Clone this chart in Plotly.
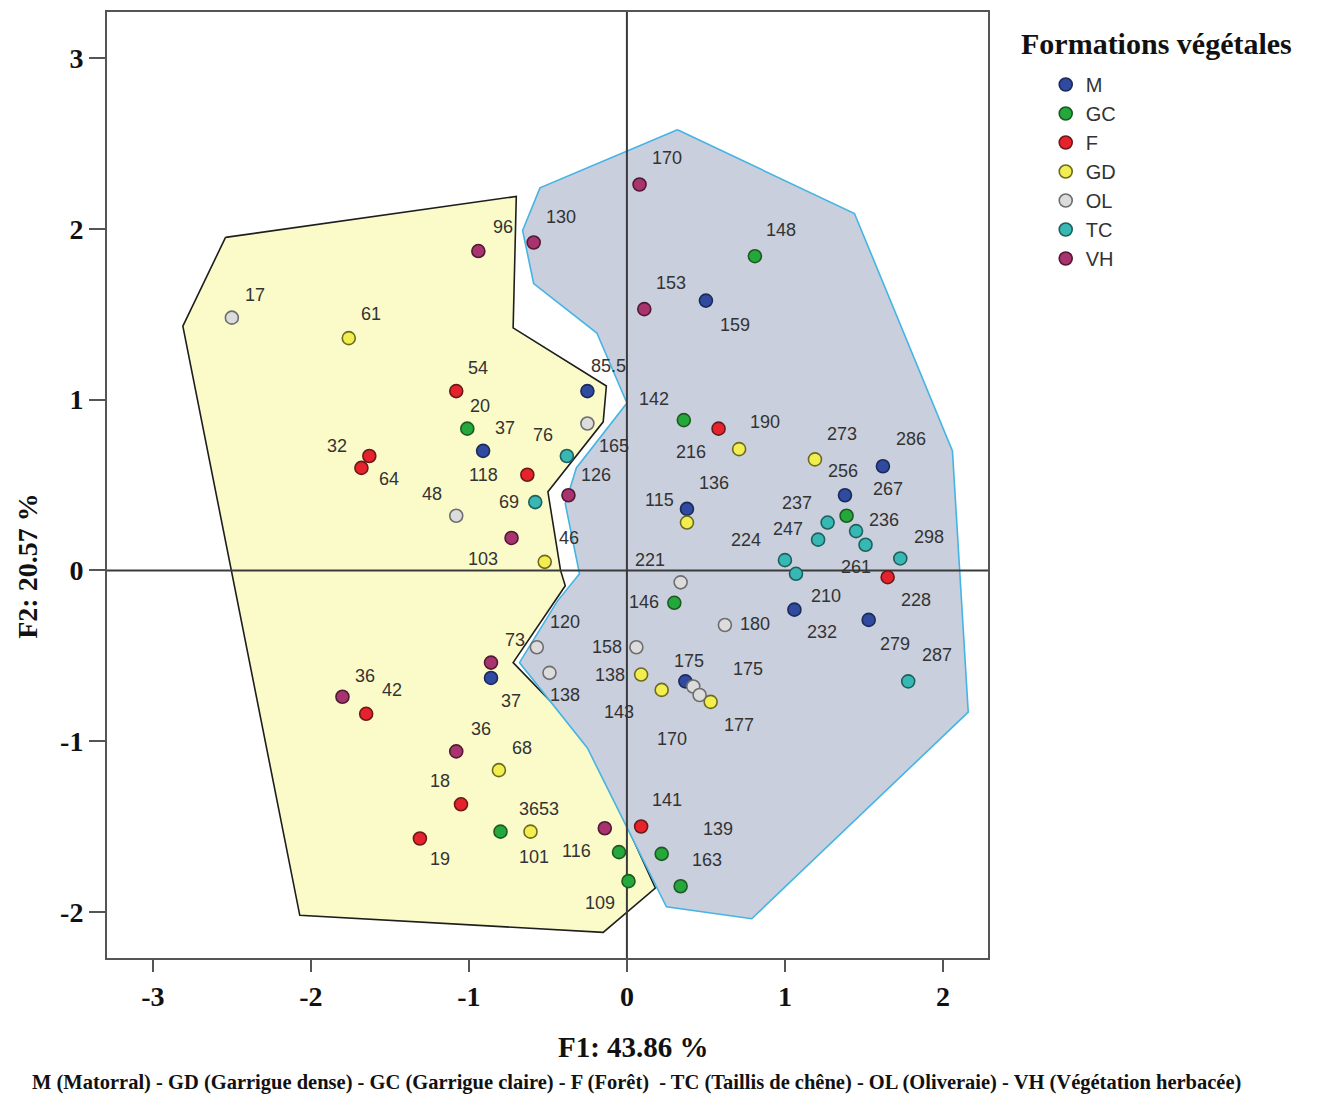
import plotly.graph_objects as go

# ---- ACP scores (F1, F2) per vegetation formation, with relevé labels ----
GROUPS = ["M", "GC", "F", "GD", "OL", "TC", "VH"]

M_X = [0.50, -0.25, -0.91, 0.38, 1.62, 1.38, 1.06, 1.53, -0.86, 0.37]
M_Y = [1.58, 1.05, 0.70, 0.36, 0.61, 0.44, -0.23, -0.29, -0.63, -0.65]
M_LAB = ["159", "85.5", "37", "136", "286", "256", "232", "279", "37", "175"]

GC_X = [0.81, -1.01, 0.36, 1.39, 0.30, -0.80, -0.05, 0.01, 0.22, 0.34]
GC_Y = [1.84, 0.83, 0.88, 0.32, -0.19, -1.53, -1.65, -1.82, -1.66, -1.85]
GC_LAB = ["148", "20", "142", "267", "146", "3653", "", "109", "139", "163"]

F_X = [-1.08, -1.63, -1.68, -0.63, 0.58, 1.65, -1.65, -1.05, -1.31, 0.09]
F_Y = [1.05, 0.67, 0.60, 0.56, 0.83, -0.04, -0.84, -1.37, -1.57, -1.50]
F_LAB = ["54", "32", "64", "118", "216", "228", "42", "18", "19", "141"]

GD_X = [-1.76, 0.71, 1.19, 0.38, -0.52, 0.09, 0.22, 0.53, -0.81, -0.61]
GD_Y = [1.36, 0.71, 0.65, 0.28, 0.05, -0.61, -0.70, -0.77, -1.17, -1.53]
GD_LAB = ["61", "190", "273", "115", "46", "138", "143", "177", "68", "101"]

OL_X = [-2.50, -0.25, -1.08, 0.34, 0.62, 0.06, -0.57, -0.49, 0.42, 0.46]
OL_Y = [1.48, 0.86, 0.32, -0.07, -0.32, -0.45, -0.45, -0.60, -0.68, -0.73]
OL_LAB = ["17", "165", "48", "221", "180", "158", "120", "138", "170", "175"]

TC_X = [-0.38, -0.58, 1.27, 1.21, 1.45, 1.51, 1.00, 1.07, 1.73, 1.78]
TC_Y = [0.67, 0.40, 0.28, 0.18, 0.23, 0.15, 0.06, -0.02, 0.07, -0.65]
TC_LAB = ["76", "69", "237", "247", "236", "261", "224", "210", "298", "287"]

VH_X = [-0.94, -0.59, 0.08, 0.11, -0.37, -0.73, -0.86, -1.80, -1.08, -0.14]
VH_Y = [1.87, 1.92, 2.26, 1.53, 0.44, 0.19, -0.54, -0.74, -1.06, -1.51]
VH_LAB = ["96", "130", "170", "153", "126", "103", "73", "36", "36", "116"]

# label offsets from each point, in screen pixels (dx right, dy down)
M_OFF = [(29, 24), (21, -25), (22, -23), (27, -26), (28, -27), (-2, -24),
         (28, 22), (26, 24), (20, 23), (4, -20)]
GC_OFF = [(26, -26), (13, -23), (-30, -21), (41, -27), (-30, -1), (39, -23),
          (0, 0), (-28, 22), (56, -25), (26, -26)]
F_OFF = [(22, -23), (-32, -10), (28, 11), (-44, 0), (-28, 23), (28, 23),
         (26, -24), (-21, -23), (20, 21), (26, -27)]
GD_OFF = [(22, -24), (26, -27), (27, -25), (-27, -23), (24, -24), (-31, 0),
          (-43, 22), (28, 23), (23, -22), (3, 25)]
OL_OFF = [(23, -23), (27, 22), (-24, -22), (-31, -22), (30, -1), (-29, 0),
          (28, -25), (16, 22), (-21, 53), (48, -26)]
TC_OFF = [(-24, -21), (-26, 0), (-31, -20), (-30, -11), (28, -11), (-10, 22),
          (-39, -20), (30, 22), (29, -21), (29, -26)]
VH_OFF = [(25, -24), (27, -26), (27, -26), (27, -26), (28, -20), (-29, 21),
          (24, -23), (23, -21), (25, -22), (-28, 23)]

# convex envelopes of the two clusters
HULL_A_X = [-2.54, -0.70, -0.72, -0.13, -0.15, -0.50, -0.42, -0.39, -0.72,
            -0.25, 0.18, -0.15, -2.07, -2.81, -2.54]
HULL_A_Y = [1.95, 2.19, 1.42, 1.08, 0.87, 0.46, 0.00, -0.09, -0.54,
            -0.99, -1.86, -2.12, -2.02, 1.43, 1.95]
HULL_B_X = [0.32, 1.44, 2.06, 2.16, 0.79, 0.25, -0.25, -0.68, -0.44, -0.30,
            -0.39, -0.32, 0.00, -0.19, -0.59, -0.66, -0.55, 0.32]
HULL_B_Y = [2.58, 2.09, 0.70, -0.83, -2.04, -1.97, -1.04, -0.54, -0.18, -0.02,
            0.39, 0.60, 0.98, 1.39, 1.68, 1.99, 2.24, 2.58]

X_RANGE = [-3.29, 2.285]
Y_RANGE = [-2.27, 3.27]
X_TICKS = [-3, -2, -1, 0, 1, 2]
Y_TICKS = [-2, -1, 0, 1, 2, 3]

data = {
    "M": (M_X, M_Y, M_LAB, M_OFF),
    "GC": (GC_X, GC_Y, GC_LAB, GC_OFF),
    "F": (F_X, F_Y, F_LAB, F_OFF),
    "GD": (GD_X, GD_Y, GD_LAB, GD_OFF),
    "OL": (OL_X, OL_Y, OL_LAB, OL_OFF),
    "TC": (TC_X, TC_Y, TC_LAB, TC_OFF),
    "VH": (VH_X, VH_Y, VH_LAB, VH_OFF),
}

fill_col = {
    "M": "#2f4a9e", "GC": "#24a83c", "F": "#e6222c", "GD": "#f2ee50",
    "OL": "#dcdcdc", "TC": "#38b8b4", "VH": "#a8336f",
}
edge_col = {
    "M": "#1c2a5a", "GC": "#1d5a22", "F": "#6a1a1a", "GD": "#6b6a20",
    "OL": "#6e6e6e", "TC": "#1f5f5c", "VH": "#4f1a35",
}

fig = go.Figure()

fig.add_trace(go.Scatter(
    x=HULL_A_X, y=HULL_A_Y, mode="lines", fill="toself",
    fillcolor="#fbfbc9", line=dict(color="#1e1e1e", width=1.6),
    showlegend=False, hoverinfo="skip"))
fig.add_trace(go.Scatter(
    x=HULL_B_X, y=HULL_B_Y, mode="lines", fill="toself",
    fillcolor="#c9cfdc", line=dict(color="#45b4e4", width=1.6),
    showlegend=False, hoverinfo="skip"))

# origin axes
fig.add_trace(go.Scatter(x=[0, 0], y=Y_RANGE, mode="lines",
                         line=dict(color="#3a3a3a", width=2),
                         showlegend=False, hoverinfo="skip"))
fig.add_trace(go.Scatter(x=X_RANGE, y=[0, 0], mode="lines",
                         line=dict(color="#3a3a3a", width=2),
                         showlegend=False, hoverinfo="skip"))

annotations = []
for g in GROUPS:
    xs, ys, labs, offs = data[g]
    fig.add_trace(go.Scatter(
        x=xs, y=ys, mode="markers", name=g,
        marker=dict(size=13, color=fill_col[g],
                    line=dict(color=edge_col[g], width=1.6)),
    ))
    for x, y, lab, (dx, dy) in zip(xs, ys, labs, offs):
        if not lab:
            continue
        annotations.append(dict(
            x=x, y=y, xref="x", yref="y", text=lab, showarrow=False,
            xshift=dx, yshift=-dy,
            font=dict(family="Liberation Sans, Arial", size=18, color="#333333")))

serif_b = "Liberation Serif, Times New Roman, serif"

annotations += [
    # legend heading
    dict(x=1.0352, y=0.967, xref="paper", yref="paper", showarrow=False,
         xanchor="left", yanchor="middle",
         text="<b>Formations végétales</b>",
         font=dict(family=serif_b, size=30, color="#111111")),
    dict(x=0.598, y=-0.0939, xref="paper", yref="paper", showarrow=False,
         xanchor="center", yanchor="middle",
         text="<b>F1: 43.86 %</b>",
         font=dict(family=serif_b, size=29, color="#111111")),
    dict(x=-0.0897, y=0.4146, xref="paper", yref="paper", showarrow=False,
         xanchor="center", yanchor="middle",
         text="<b>F2: 20.57 %</b>", textangle=-90,
         font=dict(family=serif_b, size=28, color="#111111")),
    dict(x=0.6005, y=-0.132, xref="paper", yref="paper", showarrow=False,
         xanchor="center", yanchor="middle",
         text="<b>M (Matorral) - GD (Garrigue dense) - GC (Garrigue claire) - "
              "F (Forêt)  - TC (Taillis de chêne) - OL (Oliveraie) - "
              "VH (Végétation herbacée)</b>",
         font=dict(family=serif_b, size=20.5, color="#111111")),
]

axis_common = dict(
    showgrid=False, zeroline=False, showline=True, mirror=True,
    linecolor="#555555", linewidth=2, ticks="outside", tickcolor="#555555",
    tickwidth=2, tickfont=dict(family=serif_b, size=28, color="#111111"),
)

fig.update_layout(
    width=1319, height=1095,
    margin=dict(l=107, r=331, t=10, b=137),
    paper_bgcolor="white", plot_bgcolor="white",
    xaxis=dict(range=X_RANGE, tickvals=X_TICKS, ticktext=[f"<b>{v}</b>" for v in X_TICKS],
               ticklen=12, **axis_common),
    yaxis=dict(range=Y_RANGE, tickvals=Y_TICKS, ticktext=[f"<b>{v}</b>" for v in Y_TICKS],
               ticklen=16, **axis_common),
    legend=dict(
        x=1.036, y=0.944, xanchor="left", yanchor="top",
        font=dict(family="Liberation Sans, Arial", size=20, color="#333333"),
        indentation=26, itemwidth=30, tracegroupgap=0,
        bgcolor="rgba(0,0,0,0)",
    ),
    annotations=annotations,
    showlegend=True,
)

fig.write_html("out.html")
